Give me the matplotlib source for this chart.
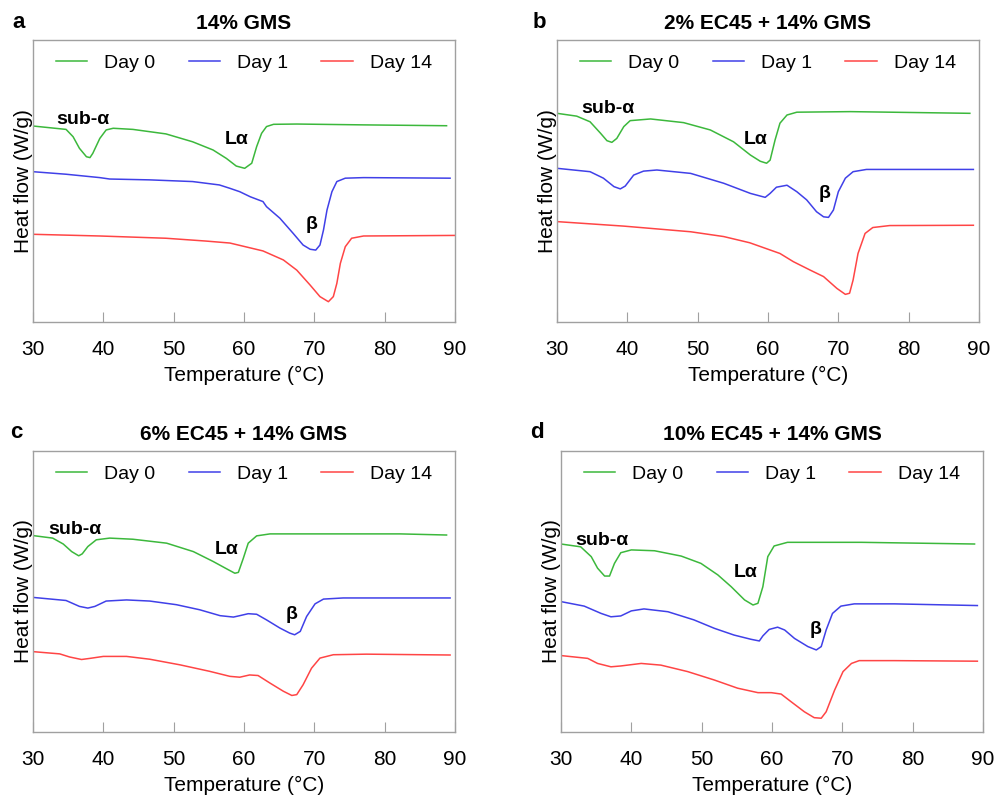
import matplotlib
matplotlib.use("Agg")
import matplotlib.pyplot as plt

plt.rcParams["font.family"] = ["Liberation Sans", "DejaVu Sans"]

# temperature (°C) / heat flow (arbitrary units, 0-100 = axis height)
# panel a: 14% GMS
a_day0_t = [30, 34.7, 35.7, 36.6, 37.6, 38.1, 38.5, 39.5, 40.4, 41.4, 44.2, 48.9, 52.7, 55.6, 57.5, 58.9,
            60.1, 61.1, 61.8, 62.5, 63.2, 64.2, 67.5, 77.0, 88.8]
a_day0_v = [69.5, 68.3, 65.7, 61.6, 58.6, 58.3, 59.8, 65.1, 68.1, 68.7, 68.3, 66.7, 63.9, 61.0, 58.0, 55.3,
            54.5, 56.3, 62.2, 66.9, 69.3, 70.1, 70.2, 69.9, 69.6]
a_day1_t = [30, 34.7, 39.5, 40.9, 46.6, 52.7, 56.5, 58.0, 59.4, 60.9, 62.7, 63.2, 65.1, 67.0, 68.4, 69.4,
            70.2, 70.8, 71.3, 71.8, 72.5, 73.2, 74.4, 77.0, 89.3]
a_day1_v = [53.3, 52.4, 51.2, 50.7, 50.4, 49.8, 48.6, 47.4, 46.2, 44.4, 42.7, 40.9, 36.8, 31.4, 27.3, 25.8,
            25.5, 27.3, 32.6, 39.7, 46.2, 49.8, 51.0, 51.2, 51.0]
a_day14_t = [30, 39.5, 48.9, 54.6, 58.0, 62.7, 65.6, 67.5, 69.4, 70.8, 72.0, 72.7, 73.2, 73.7, 74.4, 75.3,
             77.0, 90.0]
a_day14_v = [31.1, 30.5, 29.7, 28.7, 28.0, 25.2, 22.0, 18.4, 13.1, 9.0, 7.2, 9.0, 13.7, 20.8, 26.7, 29.7,
             30.5, 30.7]

# panel b: 2% EC45 + 14% GMS
b_day0_t = [30, 32.8, 34.7, 36.2, 37.1, 37.8, 38.5, 39.5, 40.4, 43.3, 48.0, 51.8, 55.1, 57.5, 58.9, 59.8,
            60.3, 61.0, 61.7, 62.7, 64.1, 71.7, 88.7]
b_day0_v = [74.0, 73.0, 71.0, 66.9, 64.3, 63.7, 65.1, 69.3, 71.4, 72.0, 70.7, 68.1, 63.9, 59.2, 57.0, 56.3,
            57.4, 64.5, 70.5, 73.4, 74.4, 74.6, 74.0]
b_day1_t = [30, 34.7, 36.6, 38.1, 39.0, 39.7, 40.9, 42.3, 44.2, 49.0, 53.7, 57.5, 59.6, 60.3, 61.2, 62.7,
            64.1, 65.5, 66.9, 67.9, 68.6, 69.3, 70.0, 71.0, 72.1, 74.0, 85.9, 89.2]
b_day1_v = [54.5, 53.3, 51.0, 48.0, 47.2, 48.2, 52.1, 53.5, 53.9, 52.7, 49.2, 45.6, 44.2, 45.6, 47.8, 48.5,
            46.2, 43.3, 39.1, 37.3, 37.1, 39.7, 46.2, 51.0, 53.3, 54.1, 54.1, 54.1]
b_day14_t = [30, 39.5, 49.0, 53.7, 57.4, 61.7, 63.6, 66.0, 67.9, 69.8, 71.0, 71.6, 72.1, 72.8, 73.8, 74.9,
             77.3, 89.2]
b_day14_v = [35.6, 34.0, 32.0, 30.3, 28.1, 24.3, 21.4, 18.4, 16.1, 11.9, 9.8, 10.2, 14.9, 24.3, 31.4, 33.5,
             34.2, 34.3]

# panel c: 6% EC45 + 14% GMS
c_day0_t = [30, 32.8, 34.3, 35.5, 36.5, 37.0, 37.8, 39.0, 40.9, 44.2, 49.0, 52.8, 55.6, 57.8, 58.7, 59.2,
            59.9, 60.6, 61.8, 63.7, 72.7, 82.2, 88.8]
c_day0_v = [69.9, 69.0, 66.9, 64.2, 62.7, 63.4, 66.0, 68.4, 69.0, 68.6, 67.2, 64.2, 60.7, 57.7, 56.5, 56.8,
            61.8, 67.2, 69.8, 70.5, 70.5, 70.5, 70.1]
c_day1_t = [30, 34.7, 36.6, 37.8, 38.8, 40.4, 43.3, 46.6, 50.4, 53.7, 56.6, 58.5, 59.4, 60.6, 61.8, 63.2,
            65.1, 66.5, 67.2, 68.0, 68.9, 70.1, 71.3, 74.1, 89.3]
c_day1_v = [47.9, 46.8, 44.7, 44.1, 44.7, 46.6, 47.0, 46.6, 45.3, 43.5, 41.4, 40.9, 41.4, 42.1, 41.9, 39.9,
            37.0, 35.2, 34.6, 35.8, 41.1, 45.6, 47.3, 47.7, 47.7]
c_day14_t = [30, 33.8, 35.2, 36.9, 38.1, 40.0, 43.3, 46.6, 50.9, 55.1, 58.0, 59.4, 60.8, 62.0, 63.7, 65.6,
             66.8, 67.5, 68.4, 69.6, 70.8, 72.7, 77.4, 89.3]
c_day14_v = [28.6, 27.8, 26.7, 25.8, 26.2, 26.9, 26.9, 25.9, 23.9, 21.6, 19.8, 19.5, 20.3, 20.1, 17.4, 14.5,
             13.0, 13.3, 16.8, 22.7, 26.3, 27.5, 27.7, 27.4]

# panel d: 10% EC45 + 14% GMS
d_day0_t = [30, 32.8, 34.3, 35.2, 36.2, 36.9, 37.6, 38.5, 40.0, 43.3, 47.1, 49.9, 52.3, 54.2, 56.1, 57.3,
            58.0, 58.7, 59.4, 60.3, 62.2, 72.7, 88.8]
d_day0_v = [66.9, 65.9, 62.4, 58.3, 55.5, 55.5, 60.0, 63.8, 64.8, 64.5, 62.6, 60.0, 55.9, 51.7, 47.0, 45.2,
            45.8, 51.7, 62.4, 66.2, 67.5, 67.5, 66.9]
d_day1_t = [30, 33.3, 35.7, 37.1, 38.5, 40.0, 41.8, 45.2, 48.9, 51.8, 54.6, 57.0, 58.2, 58.7, 59.6, 60.8,
            61.8, 63.2, 65.1, 66.3, 67.0, 67.7, 68.6, 69.8, 71.7, 77.4, 89.2]
d_day1_v = [46.4, 44.8, 42.2, 41.0, 41.3, 43.1, 43.8, 42.8, 39.9, 36.9, 34.5, 33.0, 32.4, 34.2, 36.5, 37.3,
            36.3, 33.3, 30.4, 29.2, 30.4, 36.3, 42.2, 44.8, 45.6, 45.6, 45.0]
d_day14_t = [30, 33.8, 35.2, 37.1, 38.5, 41.4, 44.2, 48.0, 51.8, 55.1, 58.0, 59.9, 61.3, 62.7, 64.6, 66.0,
             67.0, 67.7, 68.9, 70.1, 71.3, 72.4, 77.4, 89.2]
d_day14_v = [27.2, 26.2, 24.4, 23.2, 23.5, 24.4, 23.8, 21.5, 18.5, 15.6, 14.0, 14.0, 13.5, 10.8, 7.2, 5.1,
             4.9, 7.2, 14.9, 21.5, 24.4, 25.4, 25.4, 25.2]

titles = ["14% GMS", "2% EC45 + 14% GMS", "6% EC45 + 14% GMS", "10% EC45 + 14% GMS"]
letters = ["a", "b", "c", "d"]
series_labels = ["Day 0", "Day 1", "Day 14"]
colors = ["#3cb83c", "#4040e8", "#ff4545"]

# peak label positions (temperature, heat flow) for sub-α, Lα, β
peak_names = ["sub-α", "Lα", "β"]
peak_pos = [
    [(37.1, 71.8), (58.9, 64.7), (69.6, 34.7)],
    [(37.3, 75.7), (58.3, 64.7), (68.1, 45.6)],
    [(35.9, 71.9), (57.5, 65.0), (66.8, 41.7)],
    [(35.8, 68.3), (56.3, 56.7), (66.2, 36.3)],
]

panels = [
    [(a_day0_t, a_day0_v), (a_day1_t, a_day1_v), (a_day14_t, a_day14_v)],
    [(b_day0_t, b_day0_v), (b_day1_t, b_day1_v), (b_day14_t, b_day14_v)],
    [(c_day0_t, c_day0_v), (c_day1_t, c_day1_v), (c_day14_t, c_day14_v)],
    [(d_day0_t, d_day0_v), (d_day1_t, d_day1_v), (d_day14_t, d_day14_v)],
]

# axes rectangles in pixels: left, top, right, bottom
W, H = 995, 797
boxes = [(33, 40, 455, 322), (557, 40, 979, 322), (33, 451, 455, 732), (561, 451, 983, 732)]
letter_xy = [(12, 23), (533, 23), (10, 433), (530, 433)]

fig = plt.figure(figsize=(W / 100, H / 100), dpi=100)
spine_col = "#a0a0a0"

for i, (l, t, r, b) in enumerate(boxes):
    ax = fig.add_axes([l / W, 1 - b / H, (r - l) / W, (b - t) / H])
    for (tt, vv), lab, col in zip(panels[i], series_labels, colors):
        ax.plot(tt, vv, color=col, lw=1.1, label=lab, solid_joinstyle="round")
    for name, (px, py) in zip(peak_names, peak_pos[i]):
        ax.text(px, py, name, fontsize=14, fontweight="bold", ha="center", va="center")
    ax.set_xlim(30, 90)
    ax.set_ylim(0, 100)
    ax.set_xticks(range(30, 91, 10))
    ax.set_yticks([])
    ax.tick_params(axis="x", direction="in", length=7, color=spine_col, labelsize=15, pad=13)
    for sp in ax.spines.values():
        sp.set_color(spine_col)
        sp.set_linewidth(1.0)
    ax.set_xlabel("Temperature (°C)", fontsize=15, labelpad=5)
    ax.set_ylabel("Heat flow (W/g)", fontsize=15, labelpad=0)
    ax.set_title(titles[i], fontsize=15, fontweight="bold", pad=8)
    ax.legend(loc="center", bbox_to_anchor=(0.5, 0.918), ncol=3, frameon=False, fontsize=14,
              handlelength=1.6, handletextpad=0.9, columnspacing=1.7)
    fig.text(letter_xy[i][0] / W, 1 - letter_xy[i][1] / H, letters[i], fontsize=16,
             fontweight="bold", ha="left", va="center")

fig.savefig("out.png", dpi=100)
